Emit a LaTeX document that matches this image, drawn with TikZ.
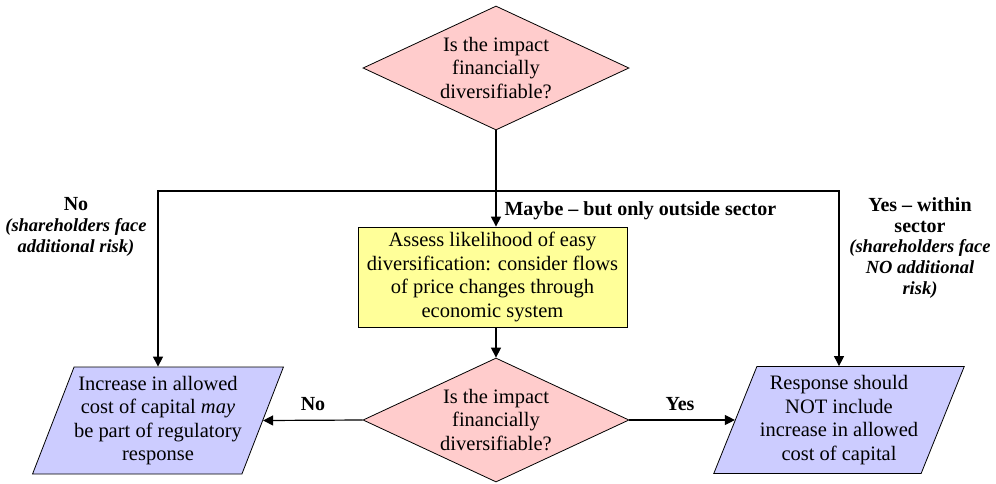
\documentclass[tikz,border=0pt]{standalone}
\usepackage{fontspec}
\setmainfont{Liberation Serif}
\usetikzlibrary{positioning}
\usetikzlibrary{shapes.geometric,arrows.meta}
\definecolor{decpink}{HTML}{FFCCCC}
\definecolor{procyellow}{HTML}{FFFF99}
\definecolor{outblue}{HTML}{CCCCFF}

\begin{document}
\begin{tikzpicture}[x=1pt,y=-1pt,
  font=\fontsize{20.5}{23.5}\selectfont,
  decision/.style={diamond,aspect=2.15,draw,line width=0.8pt,fill=decpink,minimum width=266pt,minimum height=124pt,inner sep=0pt,align=center},
  process/.style={rectangle,draw,line width=0.8pt,fill=procyellow,minimum width=269pt,minimum height=100pt,inner sep=0pt,align=center},
  outcome/.style={trapezium,trapezium left angle=65,trapezium right angle=115,trapezium stretches=true,draw,line width=0.8pt,fill=outblue,minimum width=251pt,minimum height=107pt,inner sep=0pt,align=center},
  arr/.style={-{Triangle[length=10pt,width=10pt]},line width=1.2pt},
  lbl/.style={font=\fontsize{20}{20.8}\selectfont\bfseries,align=center}]
\newcommand{\riskline}[1]{{\fontsize{18.5}{20.8}\selectfont\itshape #1}}
\useasboundingbox (0,0) rectangle (996,483);
\node[decision] (q1) at (496,68) {Is the impact\\financially\\diversifiable?};
\node[process] (assess) at (492.5,277) {Assess likelihood of easy\\diversification: consider flows\\of price changes through\\economic system};
\node[decision] (q2) at (496,420) {Is the impact\\financially\\diversifiable?};
\node[outcome] (lresp) at (158,420.5) {Increase in allowed\\cost of capital \textit{may}\\be part of regulatory\\response};
\node[outcome] (rresp) at (839,420) {Response should\\NOT include\\increase in allowed\\cost of capital};
\coordinate (split) at (496,191);
\draw[line width=1.2pt] (q1.south) -- (split);
\draw[arr] (split) -- (split |- assess.north);
\draw[arr] (split) -| (lresp.north);
\draw[arr] (split) -| (rresp.north);
\draw[arr] (q2.north |- assess.south) -- (q2.north);
\draw[arr] (q2.west) -- (lresp.east);
\draw[arr] (q2.east) -- (rresp.west);
\node[lbl,anchor=west] (maybe) at (501,211) {Maybe -- but only outside sector};
\node[lbl] (nolbl) at (313,404) {No};
\node[lbl] (yeslbl) at (680,404) {Yes};
\node[lbl] (lrisk) at (76,227) {No\\\riskline{(shareholders face}\\\riskline{additional risk)}};
\node[lbl] (rrisk) at (920,248) {Yes -- within\\sector\\\riskline{(shareholders face}\\\riskline{NO additional}\\\riskline{risk)}};
\end{tikzpicture}
\end{document}
